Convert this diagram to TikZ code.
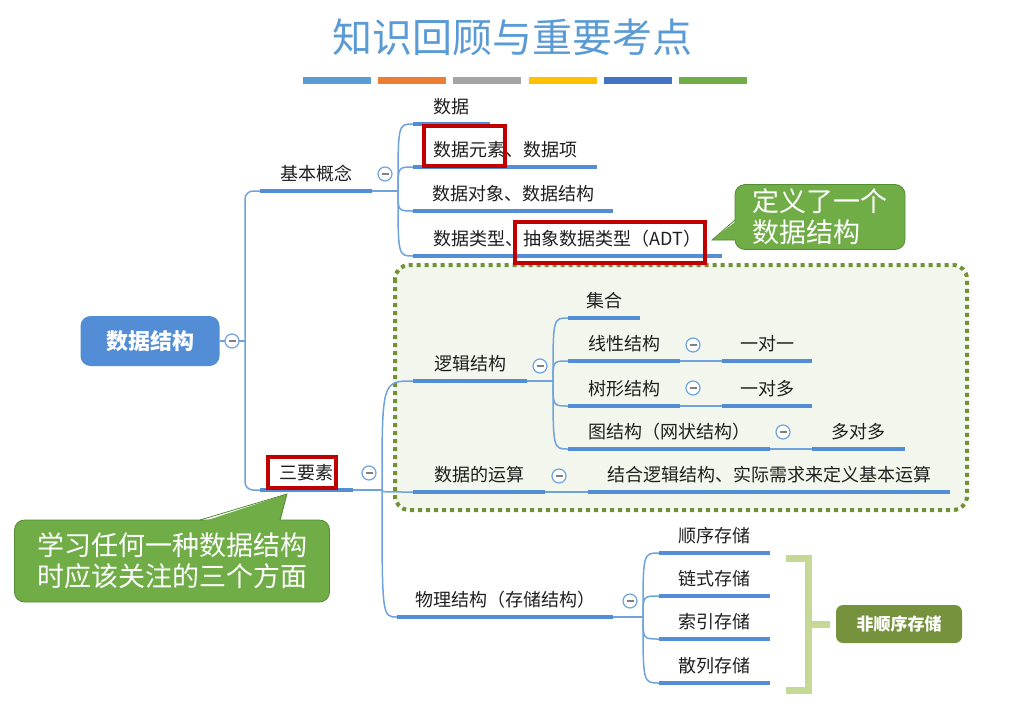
\documentclass[tikz,border=0pt]{standalone}
\usepackage{fontspec}
\setmainfont{Noto Sans CJK SC}
\usetikzlibrary{calc}
\definecolor{mapBlue}{RGB}{83,141,213}
\definecolor{lineBlue}{RGB}{110,163,222}
\definecolor{titleBlue}{RGB}{91,155,213}
\definecolor{barOrange}{RGB}{237,125,49}
\definecolor{barGray}{RGB}{165,165,165}
\definecolor{barGold}{RGB}{255,192,0}
\definecolor{barBlue}{RGB}{68,114,196}
\definecolor{noteGreen}{RGB}{112,173,71}
\definecolor{noteEdge}{RGB}{84,140,52}
\definecolor{frameGreen}{RGB}{112,146,52}
\definecolor{frameFill}{RGB}{243,246,236}
\definecolor{markRed}{RGB}{192,0,0}
\definecolor{braceGreen}{RGB}{197,216,150}
\definecolor{oliveGreen}{RGB}{118,146,60}
\definecolor{inkDark}{RGB}{30,30,30}

\begin{document}
\begin{tikzpicture}[x=1pt,y=-1pt,
  topic/.style={anchor=south west,minimum width=#1,minimum height=34,inner sep=0pt,text=inkDark,font=\fontsize{18}{20}\selectfont},
  uline/.style={mapBlue,line width=4pt},
  conn/.style={lineBlue,line width=1.5pt},
  fold/.style={circle,draw=lineBlue,fill=white,line width=1.2pt,minimum size=14,inner sep=0pt,
    path picture={\draw[gray,line width=1.2pt] ([xshift=-3.5]path picture bounding box.center) -- ([xshift=3.5]path picture bounding box.center);}},
  redbox/.style={draw=markRed,line width=4pt},
  note/.style={rounded corners=10,fill=noteGreen,draw=noteEdge,line width=.8pt,text=white,align=left,font=\fontsize{27}{31}\selectfont}]
\useasboundingbox (0,0) rectangle (1016,709);
\fill[white] (0,0) rectangle (1016,709);

% title and colour bars
\node[text=titleBlue,font=\fontsize{40}{44}\selectfont] (title) at (512,37) {知识回顾与重要考点};
\foreach \c [count=\i from 0] in {titleBlue,barOrange,barGray,barGold,barBlue,noteGreen}
  \fill[\c] ({303+75.2*\i},77) rectangle ++(68,7);

% frame round the logic part
\draw[frameGreen,fill=frameFill,line width=4pt,dash pattern=on 4pt off 4pt,rounded corners=14] (395,265) rectangle (967,510);

% root
\node[rounded corners=10,fill=mapBlue,text=white,minimum width=139,minimum height=50,font=\fontsize{22}{24}\selectfont\bfseries] (root) at (150,341) {数据结构};

% topics
\node[topic=112] (jbgn) at (260,191) {基本概念};
\node[topic=77]  (sj)   at (413,124) {数据};
\node[topic=184] (sjys) at (413,167) {数据元素、数据项};
\node[topic=200] (sjdx) at (413,211) {数据对象、数据结构};
\node[topic=309] (sjlx) at (413,256) {数据类型、抽象数据类型（ADT）};
\node[topic=93]  (syz)  at (260,490) {三要素};
\node[topic=114] (ljjg) at (413,381) {逻辑结构};
\node[topic=72]  (jh)   at (568,318) {集合};
\node[topic=112] (xxjg) at (568,361) {线性结构};
\node[topic=90]  (ydy)  at (722,361) {一对一};
\node[topic=112] (sxjg) at (568,406) {树形结构};
\node[topic=90]  (ydd)  at (722,406) {一对多};
\node[topic=202] (tjg)  at (568,449) {图结构（网状结构）};
\node[topic=93]  (dd)   at (812,449) {多对多};
\node[topic=132] (ys)   at (413,492) {数据的运算};
\node[topic=362] (jhys) at (588,492) {结合逻辑结构、实际需求来定义基本运算};
\node[topic=216] (wljg) at (397,617) {物理结构（存储结构）};
\node[topic=111] (sxcc) at (659,553) {顺序存储};
\node[topic=111] (lscc) at (659,596) {链式存储};
\node[topic=111] (sycc) at (659,639) {索引存储};
\node[topic=111] (slcc) at (659,683) {散列存储};

% connectors
\coordinate (rootfan) at (245,341);
\coordinate (fjb) at (398,191);
\coordinate (fsyz) at (382,490);
\coordinate (flj) at (553,381);
\coordinate (fwl) at (643,617);
\draw[conn] (root.east) -- (rootfan);
\draw[conn,rounded corners=8] (jbgn.south west) -| (rootfan) |- (syz.south west);
\draw[conn] (jbgn.south east) -- (fjb);
\foreach \c in {sj,sjys,sjdx,sjlx}
  \draw[conn] (fjb) .. controls (fjb |- \c.south west) .. (\c.south west);
\draw[conn] (syz.south east) -- (fsyz);
\foreach \c in {ljjg,ys,wljg}
  \draw[conn] (fsyz) .. controls (fsyz |- \c.south west) .. (\c.south west);
\draw[conn] (ljjg.south east) -- (flj);
\foreach \c in {jh,xxjg,sxjg,tjg}
  \draw[conn] (flj) .. controls (flj |- \c.south west) .. (\c.south west);
\draw[conn] (xxjg.south east) -- (ydy.south west);
\draw[conn] (sxjg.south east) -- (ydd.south west);
\draw[conn] (tjg.south east) -- (dd.south west);
\draw[conn] (ys.south east) -- (jhys.south west);
\draw[conn] (wljg.south east) -- (fwl);
\foreach \c in {sxcc,lscc,sycc,slcc}
  \draw[conn] (fwl) .. controls (fwl |- \c.south west) .. (\c.south west);

% underlines
\foreach \n in {jbgn,sj,sjys,sjdx,sjlx,syz,ljjg,jh,xxjg,ydy,sxjg,ydd,tjg,dd,ys,jhys,wljg,sxcc,lscc,sycc,slcc}
  \draw[uline] (\n.south west) -- (\n.south east);

% fold buttons
\node[fold] (fold-root) at (232,341) {};
\node[fold] (fold-jbgn) at (385,174) {};
\node[fold] (fold-syz)  at (369,473) {};
\node[fold] (fold-ljjg) at (540,366) {};
\node[fold] (fold-xxjg) at (693,345) {};
\node[fold] (fold-sxjg) at (693,388) {};
\node[fold] (fold-tjg)  at (783,432) {};
\node[fold] (fold-ys)   at (559,476) {};
\node[fold] (fold-wljg) at (630,601) {};

% red marks
\draw[redbox] (424,126) rectangle (505,166);
\draw[redbox] (515,222) rectangle (705,263);
\draw[redbox] (268,457) rectangle (336,488);

% callouts
\node[note,minimum width=170,minimum height=65] (adtnote) at (820,217) {定义了一个\\数据结构};
\coordinate (adttip) at (712,240);
\fill[noteGreen] ($(adtnote.west)+(3,3)$) -- (adttip) -- ($(adtnote.west)+(3,23)$) -- cycle;
\draw[noteEdge,line width=.8pt] ($(adtnote.west)+(0.4,3)$) -- (adttip) -- ($(adtnote.west)+(0.4,23)$);

\node[note,minimum width=315,minimum height=82] (syznote) at (172,561) {学习任何一种数据结构\\时应该关注的三个方面};
\coordinate (syztip) at (287,494);
\fill[noteGreen] ($(syznote.north)+(28,3)$) -- (syztip) -- ($(syznote.north)+(108,3)$) -- cycle;
\draw[noteEdge,line width=.8pt] ($(syznote.north)+(28,0.4)$) -- (syztip) -- ($(syznote.north)+(108,0.4)$);

% bracket and summary
\node[rounded corners=7,fill=oliveGreen,text=white,minimum width=126,minimum height=38,font=\fontsize{17}{19}\selectfont\bfseries] (nss) at (899,624) {非顺序存储};
\coordinate (brtop) at (786,558);
\draw[braceGreen,line width=7pt] (brtop) -- ++(22,0) -- ++(0,132) -- ++(-22,0);
\draw[braceGreen,line width=7pt] ($(nss.west)+(-28,0)$) -- ($(nss.west)+(-6,0)$);
\end{tikzpicture}
\end{document}
